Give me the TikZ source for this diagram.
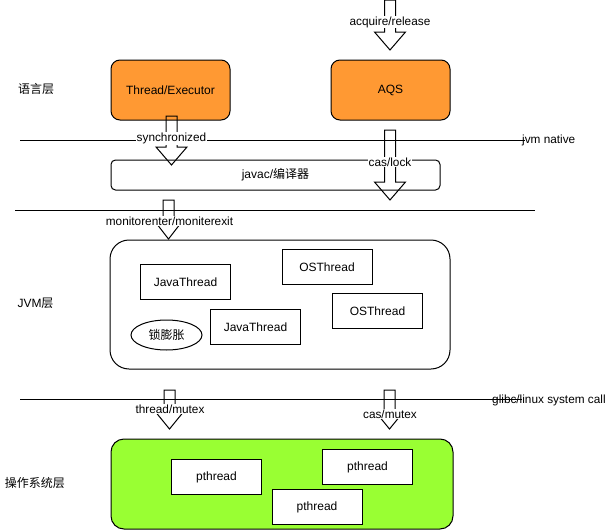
\documentclass[tikz,border=0pt]{standalone}
\usepackage{fontspec}
\setmainfont{Liberation Sans}
\newfontfamily\cjk{Noto Sans CJK SC}
\usetikzlibrary{shapes.geometric}
\definecolor{orangefill}{HTML}{FF9933}
\definecolor{greenfill}{HTML}{99FF33}
\newcommand\flexarrow[4]{%
  \draw[blockarr] ({#1-5.5},#2) -- ({#1-5.5},#3) -- ({#1-15.5},#3) -- (#1,#4) -- ({#1+15.5},#3) -- ({#1+5.5},#3) -- ({#1+5.5},#2) -- cycle;}
\begin{document}
\begin{tikzpicture}[x=1pt,y=-1pt,
  boxtext/.style={font=\fontsize{12}{14}\selectfont},
  labtext/.style={font=\fontsize{11.8}{13}\selectfont},
  bigbox/.style={draw=black, line width=1pt, inner sep=0pt, boxtext},
  thbox/.style={draw=black, line width=1pt, fill=white, minimum width=90pt, minimum height=35pt, inner sep=0pt, boxtext},
  blockarr/.style={draw=black, line width=1pt, line join=miter},
  sepline/.style={draw=black, line width=1pt},
  arrlabel/.style={fill=white, inner sep=1pt, labtext},
]
\useasboundingbox (0,0) rectangle (611,530);
% layer labels
\node[boxtext] (l1) at (36,89) {\cjk 语言层};
\node[boxtext] (l2) at (35.5,303) {JVM{\cjk 层}};
\node[boxtext] (l3) at (35,483) {\cjk 操作系统层};
% top boxes
\node[bigbox, fill=orangefill, rounded corners=9pt, minimum width=119pt, minimum height=60pt] (thr) at (170.5,90) {Thread/Executor};
\node[bigbox, fill=orangefill, rounded corners=9pt, minimum width=119pt, minimum height=60pt] (aqs) at (390.5,90) {AQS};
% javac
\node[bigbox, fill=white, rounded corners=4.5pt, minimum width=329pt, minimum height=30pt] (javac) at (275.5,175) {javac/{\cjk 编译器}};
% JVM box
\node[bigbox, fill=white, rounded corners=19pt, minimum width=340pt, minimum height=129pt] (jvm) at (280,304.5) {};
\node[thbox] (jt1) at (185.5,282) {JavaThread};
\node[thbox] (os1) at (327,267) {OSThread};
\node[thbox] (os2) at (377.5,311) {OSThread};
\node[thbox] (jt2) at (255.5,327) {JavaThread};
\node[draw=black, line width=1pt, ellipse, minimum width=71pt, minimum height=30pt, inner sep=0pt, boxtext] (inf) at (166.5,335) {\cjk 锁膨胀};
% OS box
\node[bigbox, fill=greenfill, rounded corners=13pt, minimum width=342pt, minimum height=90pt] (os) at (282,484) {};
\node[thbox] (p1) at (216.5,477) {pthread};
\node[thbox] (p2) at (367.5,467) {pthread};
\node[thbox] (p3) at (317,507) {pthread};
% block arrows
\flexarrow{390}{0}{32}{50}
\flexarrow{171.5}{116}{147}{165}
\flexarrow{390}{130}{182}{200}
\flexarrow{168.5}{200}{219}{239}
\flexarrow{169.5}{390}{410}{429}
\flexarrow{389.5}{390}{410}{429}
% separator lines
\coordinate (a1) at (20,140); \coordinate (b1) at (525,140);
\coordinate (a2) at (15,210); \coordinate (b2) at (535,210);
\coordinate (a3) at (20,399); \coordinate (b3) at (522,399);
\draw[sepline] (a1) -- (b1);
\draw[sepline] (a2) -- (b2);
\draw[sepline] (a3) -- (b3);
\node[labtext, anchor=west, inner sep=0pt] (jn) at (522,140) {jvm native};
\node[labtext, anchor=west, inner sep=0pt] (gl) at (492,400) {glibc/linux system call};
% arrow labels
\node[arrlabel] (t1) at (390,22) {acquire/release};
\node[arrlabel] (t2) at (171.5,138) {synchronized};
\node[arrlabel] (t3) at (390,162) {cas/lock};
\node[arrlabel] (t4) at (169.5,221) {monitorenter/moniterexit};
\node[arrlabel] (t5) at (170,409) {thread/mutex};
\node[arrlabel] (t6) at (390,414) {cas/mutex};
\end{tikzpicture}
\end{document}
